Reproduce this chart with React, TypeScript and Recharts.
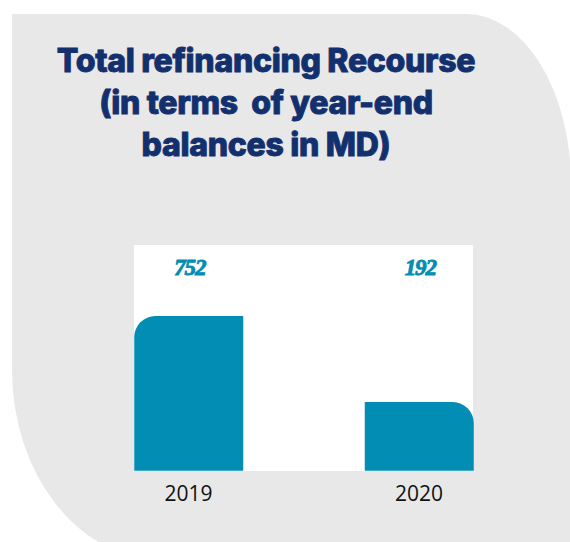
import React from "react";
import { BarChart, Bar, XAxis, YAxis } from "recharts";

// categories
const years = ["2019", "2020"];
// printed figures above the bars (MD)
const valueLabels = ["752", "192"];
// bar heights as drawn, in % of the white panel height
const barLevels = [68.5, 30.4];

const chartData = years.map((year, i) => ({
  year,
  level: barLevels[i],
  label: valueLabels[i],
}));

const NAVY = "#13306e";
const TEAL = "#018db4";

const RoundedBar = (props: any) => {
  const { x, y, width, height, index, background, payload } = props;
  const r = 21;
  const bottom = y + height;
  const d =
    index === 0
      ? `M${x},${bottom} L${x},${y + r} A${r},${r} 0 0 1 ${x + r},${y} L${x + width},${y} L${x + width},${bottom} Z`
      : `M${x},${bottom} L${x},${y} L${x + width - r},${y} A${r},${r} 0 0 1 ${x + width},${y + r} L${x + width},${bottom} Z`;
  const panelTop = background ? background.y : 245;
  return (
    <g>
      <path d={d} fill={TEAL} />
      <text
        x={x + width / 2 + 1}
        y={panelTop + 30}
        textAnchor="middle"
        fill={TEAL}
        stroke={TEAL}
        strokeWidth={0.9}
        fontFamily="'Liberation Serif', serif"
        fontWeight="bold"
        fontStyle="italic"
        fontSize={23}
        letterSpacing={-1.2}
      >
        {payload.label}
      </text>
    </g>
  );
};

const YearTick = ({ x, y, payload }: any) => (
  <text
    x={x}
    y={y + 22}
    textAnchor="middle"
    fill="#111"
    fontFamily="'Open Sans', sans-serif"
    fontSize={21}
  >
    {payload.value}
  </text>
);

export default function App() {
  return (
    <div
      style={{
        position: "absolute",
        left: 0,
        top: 0,
        width: 570,
        height: 542,
        overflow: "hidden",
        background: "#fff",
      }}
    >
      <div
        style={{
          position: "absolute",
          left: 12,
          top: 14,
          width: 559,
          height: 546,
          background: "#e8e8e8",
          borderTopRightRadius: "105px 170px",
          borderBottomLeftRadius: "150px 190px",
        }}
      />
      <div
        style={{
          position: "absolute",
          left: 0,
          top: 40,
          width: 532,
          textAlign: "center",
          color: NAVY,
          fontFamily: "Inter, sans-serif",
          fontWeight: 800,
          fontSize: 32,
          lineHeight: "42px",
          letterSpacing: -0.3,
          WebkitTextStroke: `0.9px ${NAVY}`,
          whiteSpace: "pre",
        }}
      >
        {"Total refinancing Recourse\n(in terms  of year-end\nbalances in MD)"}
      </div>
      <div
        style={{
          position: "absolute",
          left: 134,
          top: 245,
          width: 339,
          height: 226,
          background: "#fff",
        }}
      />
      <div style={{ position: "absolute", left: 0, top: 0 }}>
        <BarChart
          width={570}
          height={542}
          data={chartData}
          margin={{ top: 245, right: 35.75, bottom: 41.3, left: 73.25 }}
        >
          <XAxis
            dataKey="year"
            height={30}
            axisLine={false}
            tickLine={false}
            tick={<YearTick />}
          />
          <YAxis hide domain={[0, 100]} />
          <Bar
            dataKey="level"
            barSize={109}
            shape={<RoundedBar />}
            isAnimationActive={false}
          />
        </BarChart>
      </div>
    </div>
  );
}
